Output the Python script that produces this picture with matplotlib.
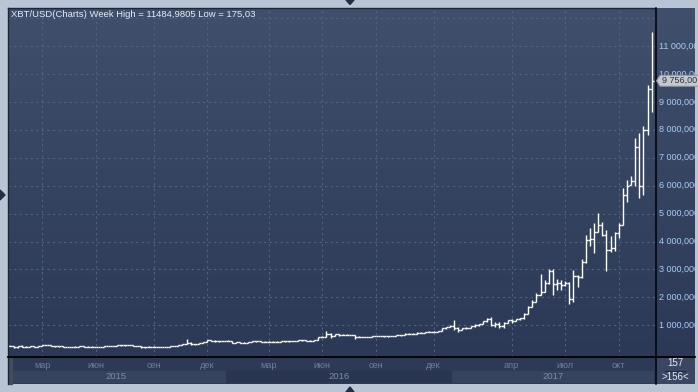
import matplotlib
matplotlib.use("Agg")
import matplotlib.pyplot as plt
import numpy as np
from matplotlib.colors import LinearSegmentedColormap
from matplotlib.patches import Polygon, Rectangle
from matplotlib.lines import Line2D
from matplotlib.transforms import IdentityTransform, blended_transform_factory

W, H = 698, 392
FONT = 'Liberation Sans'

title = "XBT/USD(Charts) Week High = 11484,9805 Low = 175,03"

# weekly bars, USD, Jan 2015 .. Nov 2017
opens = [274, 266, 210, 253, 228, 220, 258, 237, 255, 285, 286, 262, 252, 254, 236, 222, 219, 240, 241, 237,
         240, 230, 223, 234, 244, 260, 270, 290, 280, 293, 281, 262, 260, 230, 229, 240, 231, 231, 234, 238,
         247, 262, 284, 325, 373, 330, 323, 361, 390, 460, 440, 423, 430, 433, 448, 382, 385, 378, 372, 404,
         438, 432, 410, 412, 415, 410, 416, 420, 422, 428, 449, 455, 460, 445, 440, 470, 575, 590, 690, 630,
         673, 650, 665, 660, 655, 585, 585, 580, 575, 608, 610, 605, 600, 612, 615, 640, 650, 700, 705, 702,
         735, 730, 765, 770, 775, 790, 890, 935, 990, 905, 830, 900, 920, 960, 1000, 1050, 1150, 1210, 1000, 1050,
         960, 1090, 1180, 1170, 1230, 1250, 1400, 1650, 1850, 2100, 2190, 2500, 2950, 2480, 2500, 2440, 2500, 1930, 2750, 2720,
         3250, 4050, 4100, 4350, 4600, 4250, 3700, 3780, 4300, 4600, 5680, 6030, 6150, 7400, 6000, 8000, 9450]
highs = [300, 270, 260, 310, 245, 265, 262, 260, 300, 297, 295, 270, 260, 262, 240, 237, 241, 247, 246, 243,
         241, 234, 237, 254, 260, 275, 300, 295, 296, 298, 287, 273, 265, 233, 242, 245, 235, 237, 240, 249,
         270, 290, 333, 502, 390, 340, 370, 400, 470, 470, 460, 437, 435, 460, 450, 410, 398, 390, 405, 445,
         440, 440, 420, 420, 420, 420, 422, 424, 430, 450, 466, 462, 462, 458, 475, 580, 600, 780, 710, 700,
         685, 680, 680, 665, 660, 600, 590, 585, 612, 630, 612, 610, 612, 620, 645, 655, 715, 740, 715, 750,
         745, 770, 780, 785, 800, 900, 945, 1000, 1190, 950, 920, 930, 990, 1050, 1060, 1170, 1260, 1280, 1100, 1110,
         1130, 1200, 1210, 1240, 1260, 1430, 1690, 1900, 2160, 2840, 2620, 3000, 3000, 2660, 2620, 2600, 2560, 2980, 2800, 3380,
         4240, 4500, 4660, 5010, 4700, 4420, 4180, 4350, 4670, 5920, 6200, 6330, 7700, 7880, 8120, 9610, 11485]
lows = [265, 175, 200, 215, 212, 217, 230, 232, 255, 276, 255, 237, 240, 218, 215, 218, 210, 230, 233, 231,
        225, 221, 222, 224, 241, 255, 265, 270, 274, 280, 258, 255, 200, 200, 225, 230, 224, 226, 233, 236,
        246, 260, 283, 313, 300, 310, 317, 355, 388, 430, 415, 415, 425, 425, 370, 360, 365, 365, 370, 400,
        400, 404, 405, 405, 408, 405, 410, 415, 418, 426, 445, 440, 445, 435, 435, 468, 570, 590, 550, 610,
        610, 640, 655, 645, 500, 570, 565, 570, 570, 605, 600, 595, 595, 605, 612, 630, 650, 680, 690, 690,
        720, 730, 755, 750, 765, 785, 880, 925, 830, 750, 820, 880, 900, 955, 990, 1040, 1130, 960, 950, 900,
        890, 1070, 1090, 1150, 1200, 1240, 1390, 1640, 1840, 2090, 2180, 2480, 2090, 2270, 2250, 2400, 1760, 1850, 2380, 2700,
        3220, 3840, 3600, 4340, 4200, 2960, 3640, 3670, 4120, 4590, 5430, 6030, 6000, 5550, 5670, 7820, 8630]
closes = [266, 210, 253, 228, 220, 258, 237, 255, 285, 286, 262, 252, 254, 236, 222, 219, 240, 241, 237, 240,
          230, 223, 234, 244, 260, 270, 290, 280, 293, 281, 262, 260, 230, 229, 240, 231, 231, 234, 238, 247,
          262, 284, 325, 373, 330, 323, 361, 390, 460, 440, 423, 430, 433, 448, 382, 385, 378, 372, 404, 438,
          432, 410, 412, 415, 410, 416, 420, 422, 428, 449, 455, 460, 445, 440, 470, 575, 590, 690, 630, 673,
          650, 665, 660, 655, 585, 585, 580, 575, 608, 610, 605, 600, 612, 615, 640, 650, 700, 705, 702, 735,
          730, 765, 770, 775, 790, 890, 935, 990, 905, 830, 900, 920, 960, 1000, 1050, 1150, 1210, 1000, 1050, 960,
          1090, 1180, 1170, 1230, 1250, 1400, 1650, 1850, 2100, 2190, 2500, 2950, 2480, 2500, 2440, 2500, 1930, 2750, 2720, 3250,
          4050, 4100, 4350, 4600, 4250, 3700, 3780, 4300, 4600, 5680, 5980, 6150, 7400, 6000, 8000, 9450, 9756]

month_idx = [8, 21, 35, 48, 63, 76, 89, 103, 122, 135, 148]
month_lbl = ['мар', 'июн', 'сен', 'дек', 'мар', 'июн', 'сен', 'дек', 'апр', 'июл', 'окт']
year_start = [0, 53, 108]
year_lbl = ['2015', '2016', '2017']
y_levels = list(range(1000, 12001, 1000))
y_labels = list(range(1000, 11001, 1000))

n = len(closes)
x = np.arange(n)
XLIM = (-0.36, 156.8)
YLIM = (-136, 12362)


def rect(x0, y0, x1, y1):
    return [x0 / W, (H - y1) / H, (x1 - x0) / W, (y1 - y0) / H]


def P(xp, yp):
    return (xp, H - yp)


def fmt(v, dec):
    s = f"{v:,.{dec}f}".replace(',', ' ').replace('.', ',')
    return s


bg = LinearSegmentedColormap.from_list('bg', ['#2b3956', '#3f4f6c'])
grad = np.linspace(0, 1, 256).reshape(-1, 1)

fig = plt.figure(figsize=(W / 100, H / 100), dpi=100)
fig.patch.set_facecolor('#b9c4d4')

# main chart
ax = fig.add_axes(rect(8, 8, 655, 357))
ax.imshow(grad, cmap=bg, aspect='auto', extent=[0, 1, 0, 1], origin='lower',
          transform=ax.transAxes, zorder=0)
ax.set_xlim(*XLIM)
ax.set_ylim(*YLIM)
ax.set_xticks([])
ax.set_yticks([])
for s in ax.spines.values():
    s.set_visible(False)
for v in y_levels:
    ax.axhline(v, color='#53637f', lw=0.8, ls=(0, (2, 3)), zorder=1)
for m in month_idx:
    ax.axvline(m, color='#53637f', lw=0.8, ls=(0, (2, 3)), zorder=1)

ax.vlines(x, lows, highs, color='white', lw=1.0, zorder=3)
ax.hlines(opens, x - 0.5, x, color='white', lw=1.0, zorder=3)
ax.hlines(closes, x, x + 0.5, color='white', lw=1.0, zorder=3)

fig.text(11 / W, 1 - 14.5 / H, title, ha='left', va='center', fontsize=6.8,
         color='#e8edf5', family=FONT)

# price scale on the right
axr = fig.add_axes(rect(655, 8, 695, 357))
axr.imshow(grad, cmap=bg, aspect='auto', extent=[0, 1, 0, 1], origin='lower',
           transform=axr.transAxes, zorder=0)
axr.set_xlim(0, 1)
axr.set_ylim(*YLIM)
axr.set_xticks([])
axr.set_yticks([])
for s in axr.spines.values():
    s.set_visible(False)
bt = blended_transform_factory(axr.transAxes, axr.transData)
for v in y_labels:
    axr.text(0.1, v, fmt(v, 4), transform=bt, ha='left', va='center', fontsize=6.5,
             color='#a9cdf5', family=FONT, clip_on=True)

# time axis strip
axt = fig.add_axes(rect(8, 357, 655, 384))
axt.set_facecolor('#2d3a55')
axt.set_xlim(*XLIM)
axt.set_ylim(0, 1)
axt.set_xticks([])
axt.set_yticks([])
for s in axt.spines.values():
    s.set_visible(False)
bounds = year_start + [n]
for k, lbl in enumerate(year_lbl):
    a, b = bounds[k] - 0.5, bounds[k + 1] - 0.5
    col = '#35435f' if k % 2 == 0 else '#2a3651'
    axt.axvspan(a, b, ymin=0.02, ymax=0.49, color=col, lw=0)
    axt.text((a + b) / 2, 0.27, lbl, ha='center', va='center', fontsize=6.8,
             color='#7b8ba6', family=FONT)
for m, lbl in zip(month_idx, month_lbl):
    axt.text(m, 0.67, lbl, ha='center', va='center', fontsize=6.6,
             color='#6a80a3', family=FONT)

# count box
axb = fig.add_axes(rect(655, 357, 695, 384))
axb.set_facecolor('#3a4763')
axb.set_xlim(0, 1)
axb.set_ylim(0, 1)
axb.set_xticks([])
axb.set_yticks([])
for s in axb.spines.values():
    s.set_visible(False)
axb.text(0.5, 0.76, str(n), ha='center', va='center', fontsize=7, color='#e6ebf2', family=FONT)
axb.text(0.5, 0.26, '>' + str(n - 1) + '<', ha='center', va='center', fontsize=7,
         color='#e6ebf2', family=FONT)
axb.plot([0.25, 0.75], [0.5, 0.5], color='#222b3c', lw=0.8)

# frame lines
idt = IdentityTransform()
fig.add_artist(Line2D([P(8, 7.5)[0], P(655, 7.5)[0]], [P(8, 7.5)[1], P(655, 7.5)[1]],
                      color='#1e2636', lw=1.0, transform=idt))
fig.add_artist(Line2D([P(7.5, 8)[0], P(7.5, 384)[0]], [P(7.5, 8)[1], P(7.5, 384)[1]],
                      color='#1e2636', lw=1.0, transform=idt))
fig.add_artist(Line2D([P(655.5, 8)[0], P(655.5, 384)[0]], [P(655.5, 8)[1], P(655.5, 384)[1]],
                      color='black', lw=1.1, transform=idt))
fig.add_artist(Line2D([P(8, 357)[0], P(695, 357)[0]], [P(8, 357)[1], P(695, 357)[1]],
                      color='black', lw=1.3, transform=idt))
fig.add_artist(Rectangle(P(9, 384), 3, 26, color='#434c5e', transform=idt))

# last price marker
fig.canvas.draw()
yd = axr.transData.transform((0, closes[-1]))[1]
box = Polygon([(656.5, yd), (660, yd + 5.5), (699, yd + 5.5), (699, yd - 5.5), (660, yd - 5.5)],
              closed=True, facecolor='#c5c9ce', edgecolor='#8d939b', lw=0.7, transform=idt, zorder=5)
fig.add_artist(box)
fig.text(661.5 / W, yd / H, fmt(closes[-1], 2), ha='left', va='center', fontsize=6.5,
         color='#2a3243', family=FONT, zorder=6)

# splitter markers
for tri in ([P(346, 0), P(354, 0), P(350, 4.5)],
            [P(0, 190), P(0, 200), P(5, 195)],
            [P(346, 392), P(354, 392), P(350, 387)]):
    fig.add_artist(Polygon(tri, closed=True, color='#222c44', transform=idt))

fig.savefig('out.png', dpi=100, facecolor=fig.get_facecolor())
